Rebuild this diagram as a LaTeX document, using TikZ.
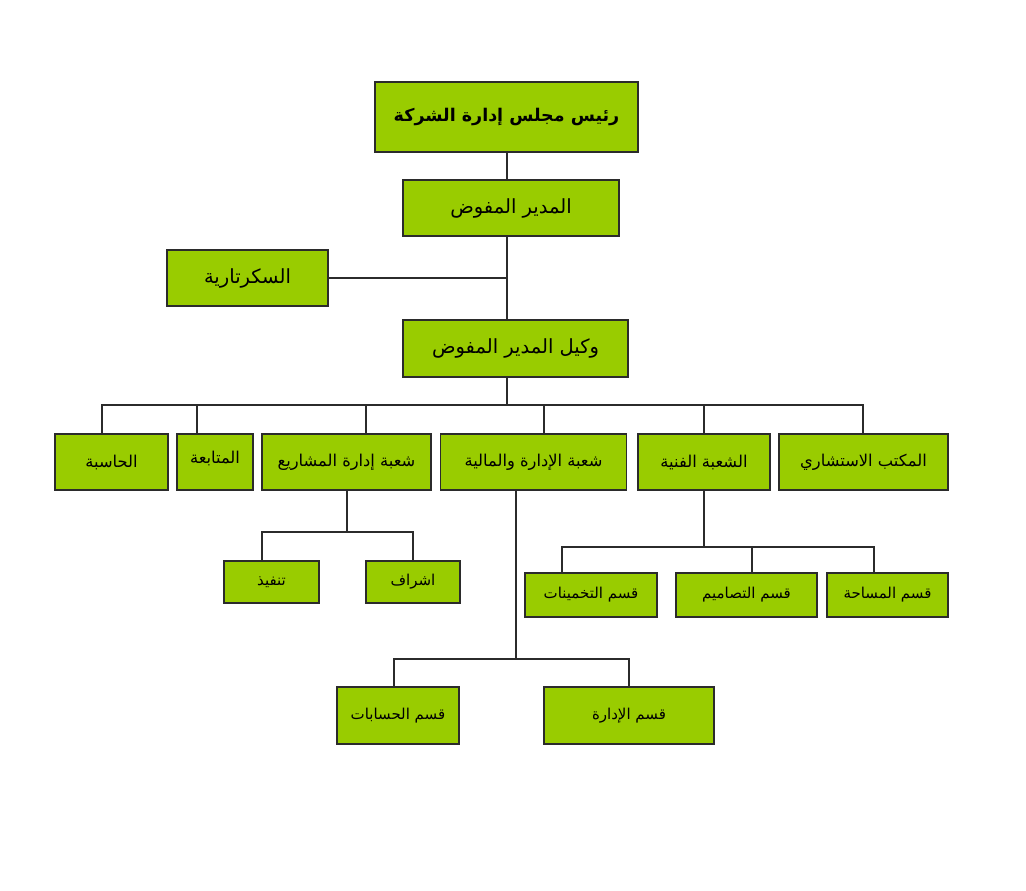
\documentclass[tikz,border=0pt]{standalone}
\usepackage{fontspec}
\newfontfamily\arabicfont[Script=Arabic]{DejaVu Sans}
\TeXXeTstate=1
\newcommand\ar[1]{\beginR #1\endR}
\definecolor{boxgreen}{HTML}{99CC00}
\definecolor{lineclr}{HTML}{2B2B2B}
\tikzset{
  box/.style={draw=lineclr, line width=1.1pt, fill=boxgreen, inner sep=0pt, align=center},
  fbig/.style={font=\arabicfont\bfseries\fontsize{17.5}{21}\selectfont},
  fmid/.style={font=\arabicfont\fontsize{19.5}{23}\selectfont},
  frow/.style={font=\arabicfont\fontsize{16.3}{19}\selectfont},
  fsub/.style={font=\arabicfont\fontsize{15}{18}\selectfont},
  conn/.style={draw=lineclr, line width=1.1pt},
}
\begin{document}
\begin{tikzpicture}[x=1pt,y=-1pt]
\useasboundingbox[fill=white] (0,0) rectangle (1026,891);
% top chain
\node[box,fbig,minimum width=263pt,minimum height=70pt] (chair) at (506.5,117) {\ar{رئيس مجلس إدارة الشركة}};
\node[box,fmid,minimum width=216pt,minimum height=56pt] (md) at (511,208) {\ar{المدير المفوض}};
\node[box,fmid,minimum width=161pt,minimum height=56pt] (sec) at (247.5,278) {\ar{السكرتارية}};
\node[box,fmid,minimum width=225pt,minimum height=57pt] (dep) at (515.5,348.5) {\ar{وكيل المدير المفوض}};
% row
\node[box,frow,minimum width=113pt,minimum height=56pt] (hasiba) at (111.5,462) {\ar{الحاسبة}};
\node[box,frow,minimum width=76pt,minimum height=56pt] (mutaba) at (215,462) {\raisebox{10pt}{\ar{المتابعة}}};
\node[box,frow,minimum width=169pt,minimum height=56pt] (mashari) at (346.5,462) {\ar{شعبة إدارة المشاريع}};
\node[box,frow,minimum width=186pt,minimum height=56pt] (idara) at (533.5,462) {\ar{شعبة الإدارة والمالية}};
\node[box,frow,minimum width=132pt,minimum height=56pt] (fanniya) at (704,462) {\ar{الشعبة الفنية}};
\node[box,frow,minimum width=169pt,minimum height=56pt] (maktab) at (863.5,462) {\ar{المكتب الاستشاري}};
% sub of mashari
\node[box,fsub,minimum width=95pt,minimum height=42pt] (tanfeeth) at (271.5,582) {\ar{تنفيذ}};
\node[box,fsub,minimum width=94pt,minimum height=42pt] (ishraf) at (413,582) {\ar{اشراف}};
% sub of fanniya
\node[box,fsub,minimum width=132pt,minimum height=44pt] (takh) at (591,595) {\ar{قسم التخمينات}};
\node[box,fsub,minimum width=141pt,minimum height=44pt] (tasa) at (746.5,595) {\ar{قسم التصاميم}};
\node[box,fsub,minimum width=121pt,minimum height=44pt] (misaha) at (887.5,595) {\ar{قسم المساحة}};
% sub of idara
\node[box,fsub,minimum width=122pt,minimum height=57pt] (hisabat) at (398,715.5) {\ar{قسم الحسابات}};
\node[box,fsub,minimum width=170pt,minimum height=57pt] (idara2) at (629,715.5) {\ar{قسم الإدارة}};
% coordinates
\coordinate (bus) at (507,405);
\coordinate (j1) at (347,532);
\coordinate (j2) at (704,547);
\coordinate (j3) at (516,659);
% trunk
\draw[conn] (chair.south -| bus) -- (md.north -| bus);
\draw[conn] (md.south -| bus) -- (dep.north -| bus);
\draw[conn] (sec.east) -- (sec.east -| bus);
\draw[conn] (dep.south -| bus) -- (bus);
% bus to row
\draw[conn] ([xshift=-9.5pt]hasiba.north) |- ([xshift=-0.5pt]maktab.north |- bus) -- ([xshift=-0.5pt]maktab.north);
\draw[conn] ([xshift=-18pt]mutaba.north) -- ([xshift=-18pt]mutaba.north |- bus);
\draw[conn] ([xshift=19.5pt]mashari.north) -- ([xshift=19.5pt]mashari.north |- bus);
\draw[conn] ([xshift=10.5pt]idara.north) -- ([xshift=10.5pt]idara.north |- bus);
\draw[conn] (fanniya.north) -- (fanniya.north |- bus);
% mashari sub
\draw[conn] (mashari.south -| j1) -- (j1);
\draw[conn] ([xshift=-9.5pt]tanfeeth.north) |- (j1) -| (ishraf.north);
% fanniya sub
\draw[conn] (fanniya.south) -- (j2);
\draw[conn] ([xshift=-29pt]takh.north) |- (j2) -| ([xshift=-13.5pt]misaha.north);
\draw[conn] ([xshift=5.5pt]tasa.north) -- ([xshift=5.5pt]tasa.north |- j2);
% idara sub
\draw[conn] ([xshift=-17.5pt]idara.south) -- (j3);
\draw[conn] ([xshift=-4pt]hisabat.north) |- (j3) -| (idara2.north);
\end{tikzpicture}
\end{document}
